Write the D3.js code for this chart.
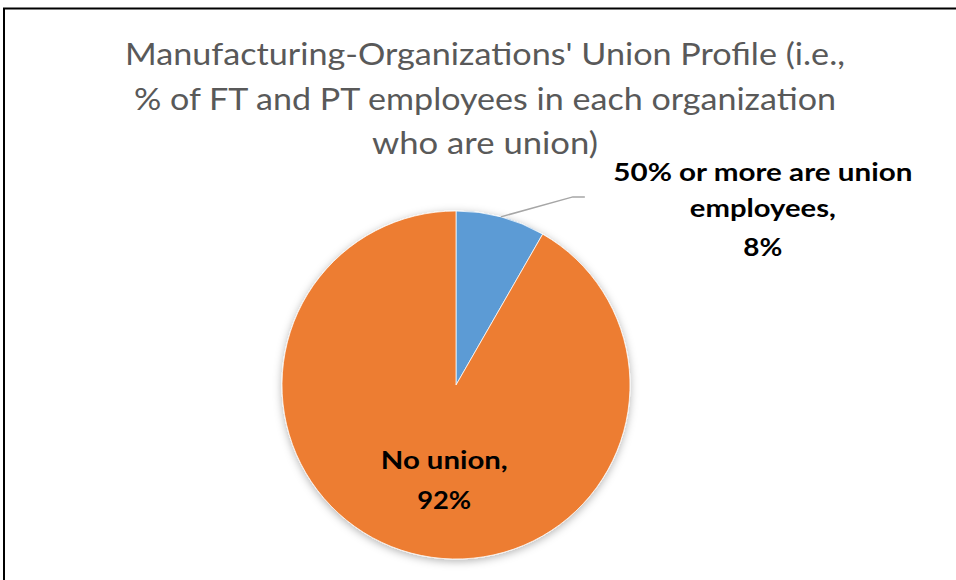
<!DOCTYPE html>
<html>
<head>
<meta charset="utf-8">
<script src="https://cdn.jsdelivr.net/npm/d3@7"></script>
<style>
  html, body { margin: 0; padding: 0; background: #fff; }
  svg { display: block; font-family: Lato, 'Open Sans', sans-serif; }
</style>
</head>
<body>
<div class="canvas"></div>
<script>
// chart data
const categories = ['50% or more are union employees', 'No union'];
const shares = [8.3, 91.7];
const colours = ['#5b9bd5', '#ed7d31'];
const titleLines = [
    "Manufacturing-Organizations' Union Profile (i.e.,",
    '% of FT and PT employees in each organization',
    'who are union)'
];
const labelLines = [
    ['50% or more are union', 'employees,'],
    ['No union,']
];

const dims = { width: 956, height: 580, radius: 174 };
const cent = { x: 456, y: 385 };

const svg = d3.select('.canvas')
    .append('svg')
    .attr('width', dims.width)
    .attr('height', dims.height);

// drop shadow like the office chart
const defs = svg.append('defs');
defs.append('filter')
    .attr('id', 'shadow')
    .attr('x', '-20%').attr('y', '-20%')
    .attr('width', '140%').attr('height', '140%')
    .append('feDropShadow')
        .attr('dx', 0)
        .attr('dy', 2)
        .attr('stdDeviation', 4)
        .attr('flood-color', '#000')
        .attr('flood-opacity', 0.3);

// chart border (right and bottom edges run off the picture)
svg.append('rect')
    .attr('x', 4)
    .attr('y', 8.5)
    .attr('width', dims.width + 20)
    .attr('height', dims.height + 20)
    .attr('fill', 'none')
    .attr('stroke', '#000')
    .attr('stroke-width', 2);

// title
const titleWidths = [720, 702, 226];
svg.append('g')
    .selectAll('text')
    .data(titleLines)
    .enter()
    .append('text')
        .attr('x', 485)
        .attr('y', (d, i) => 65 + i * 44.5)
        .attr('text-anchor', 'middle')
        .attr('fill', '#595959')
        .attr('font-size', 31)
        .attr('textLength', (d, i) => titleWidths[i])
        .attr('lengthAdjust', 'spacingAndGlyphs')
        .text(d => d);

const graph = svg.append('g')
    .attr('transform', `translate(${cent.x}, ${cent.y})`);

const pie = d3.pie().sort(null).value(d => d);
const arc = d3.arc().innerRadius(0).outerRadius(dims.radius);
const arcData = pie(shares);
const total = d3.sum(shares);
const pct = d3.format('.0%');

graph.append('g')
    .attr('filter', 'url(#shadow)')
    .selectAll('path')
    .data(arcData)
    .enter()
    .append('path')
        .attr('d', arc)
        .attr('fill', (d, i) => colours[i])
        .attr('stroke', '#fff')
        .attr('stroke-width', 0.75);

// outside label for the small slice, with leader line
const small = arcData[0];
const midA = (small.startAngle + small.endAngle) / 2;
const p0 = [dims.radius * Math.sin(midA), -dims.radius * Math.cos(midA)];
const p1 = [p0[0] + 72, p0[1] - 20];
const p2 = [p1[0] + 12, p1[1]];

graph.append('polyline')
    .attr('points', [p0, p1, p2].map(p => p.join(',')).join(' '))
    .attr('fill', 'none')
    .attr('stroke', '#a6a6a6')
    .attr('stroke-width', 1.5);

const smallLabel = graph.append('text')
    .attr('text-anchor', 'middle')
    .attr('font-weight', 'bold')
    .attr('font-size', 25)
    .attr('fill', '#000');
const smallWidths = [299, 146, 39];
[...labelLines[0], pct(shares[0] / total)].forEach((line, i) => {
    smallLabel.append('tspan')
        .attr('x', p2[0] + 178)
        .attr('y', p2[1] - 16 + [0, 36.5, 75][i])
        .attr('textLength', smallWidths[i])
        .attr('lengthAdjust', 'spacingAndGlyphs')
        .text(line);
});

// inside label for the big slice
const labelArc = d3.arc().innerRadius(0).outerRadius(dims.radius * 1.15);
const [lx, ly] = labelArc.centroid(arcData[1]);
const bigLabel = graph.append('text')
    .attr('text-anchor', 'middle')
    .attr('font-weight', 'bold')
    .attr('font-size', 25)
    .attr('fill', '#000');
const bigWidths = [127, 54];
[...labelLines[1], pct(shares[1] / total)].forEach((line, i) => {
    bigLabel.append('tspan')
        .attr('x', lx + 14)
        .attr('y', ly - 13 + i * 40)
        .attr('textLength', bigWidths[i])
        .attr('lengthAdjust', 'spacingAndGlyphs')
        .text(line);
});
</script>
</body>
</html>
